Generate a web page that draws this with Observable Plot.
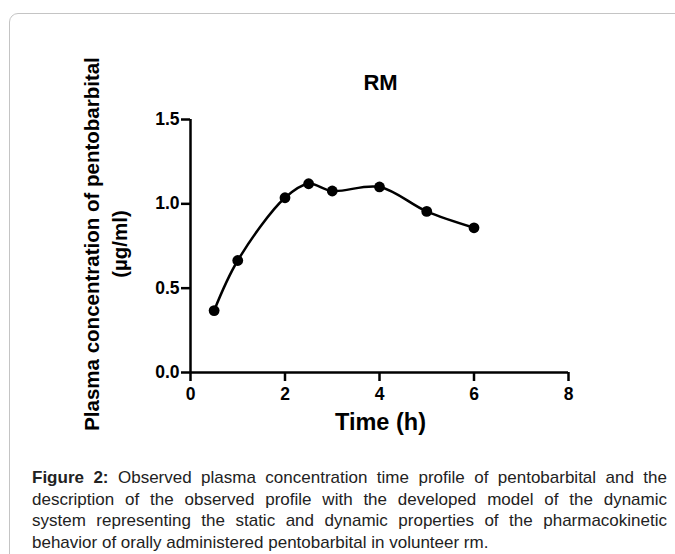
<!DOCTYPE html>
<html>
<head>
<meta charset="utf-8">
<script src="https://cdn.jsdelivr.net/npm/d3@7"></script>
<script src="https://cdn.jsdelivr.net/npm/@observablehq/plot@0.6"></script>
<style>
  html, body { margin: 0; padding: 0; background: #fff; }
  body { width: 675px; height: 554px; position: relative; overflow: hidden; }
  #frame { position: absolute; left: 9px; top: 13px; width: 700px; height: 600px;
           border: 1.5px solid #c4c4c4; border-radius: 9px; box-sizing: border-box; }
  #chart { position: absolute; left: 0; top: 0; }
  #chart svg [aria-label$="tick label"] { font-size: 17.5px; font-weight: bold; }
  #caption { position: absolute; left: 32px; top: 467px; width: 635px;
             font-family: "Liberation Sans", Arial, sans-serif;
             font-size: 17px; line-height: 21.5px; color: #222; }
  #caption .l { display: block; text-align: justify; text-align-last: justify; white-space: nowrap; }
  #caption .last { text-align-last: left; }
</style>
</head>
<body>
<div id="frame"></div>
<div id="chart"></div>
<div id="caption">
  <span class="l"><b>Figure 2:</b> Observed plasma concentration time profile of pentobarbital and the</span>
  <span class="l">description of the observed profile with the developed model of the dynamic</span>
  <span class="l">system representing the static and dynamic properties of the pharmacokinetic</span>
  <span class="l last">behavior of orally administered pentobarbital in volunteer rm.</span>
</div>
<script>
const time = [0.5, 1, 2, 2.5, 3, 4, 5, 6];
const conc = [0.367, 0.664, 1.036, 1.119, 1.076, 1.100, 0.955, 0.858];
const xTicks = [0, 2, 4, 6, 8];
const yTicks = [0, 0.5, 1.0, 1.5];
const title = "RM";
const xLabel = "Time (h)";
const yLabel1 = "Plasma concentration of pentobarbital";
const yLabel2 = "(\u00b5g/ml)";

const data = time.map((t, i) => ({t, c: conc[i]}));

const chart = Plot.plot({
  width: 675,
  height: 440,
  marginLeft: 190,
  marginRight: 107,
  marginTop: 119,
  marginBottom: 68,
  style: {fontFamily: "'Liberation Sans', Arial, sans-serif", fontWeight: "bold", fontSize: "17px", color: "#000", background: "transparent", overflow: "visible"},
  x: {domain: [0, 8]},
  y: {domain: [0, 1.5]},
  marks: [
    Plot.axisX({ticks: xTicks, tickSize: 9, tickPadding: 6, tickFormat: d3.format("d"), strokeWidth: 2.5, label: null, fontSize: 17.5, fontWeight: "bold"}),
    Plot.axisY({ticks: yTicks, tickSize: 9, tickPadding: 2, tickFormat: d3.format(".1f"), strokeWidth: 2.5, label: null, fontSize: 17.5, fontWeight: "bold"}),
    Plot.ruleY([0], {x1: 0, x2: 8, strokeWidth: 2.5, stroke: "#000"}),
    Plot.ruleX([0], {y1: 0, y2: 1.5, strokeWidth: 2.5, stroke: "#000"}),
    Plot.line(data, {x: "t", y: "c", curve: "catmull-rom", stroke: "#000", strokeWidth: 2.5}),
    Plot.dot(data, {x: "t", y: "c", r: 5.4, fill: "#000", stroke: "none"}),
    Plot.text([title], {frameAnchor: "top", lineAnchor: "middle", dx: 1, dy: -36.5, fontSize: 22, fontWeight: "bold", fill: "#000"}),
    Plot.text([xLabel], {frameAnchor: "bottom", lineAnchor: "middle", dx: 1, dy: 49.5, fontSize: 23.5, fontWeight: "bold", fill: "#000"}),
    Plot.text([yLabel1], {frameAnchor: "left", textAnchor: "middle", dx: -98.5, dy: -2, rotate: -90, fontSize: 20.5, fontWeight: "bold", fill: "#000"}),
    Plot.text([yLabel2], {frameAnchor: "left", textAnchor: "middle", dx: -70, dy: -2, rotate: -90, fontSize: 20.5, fontWeight: "bold", fill: "#000"})
  ]
});
document.getElementById("chart").appendChild(chart);
</script>
</body>
</html>
